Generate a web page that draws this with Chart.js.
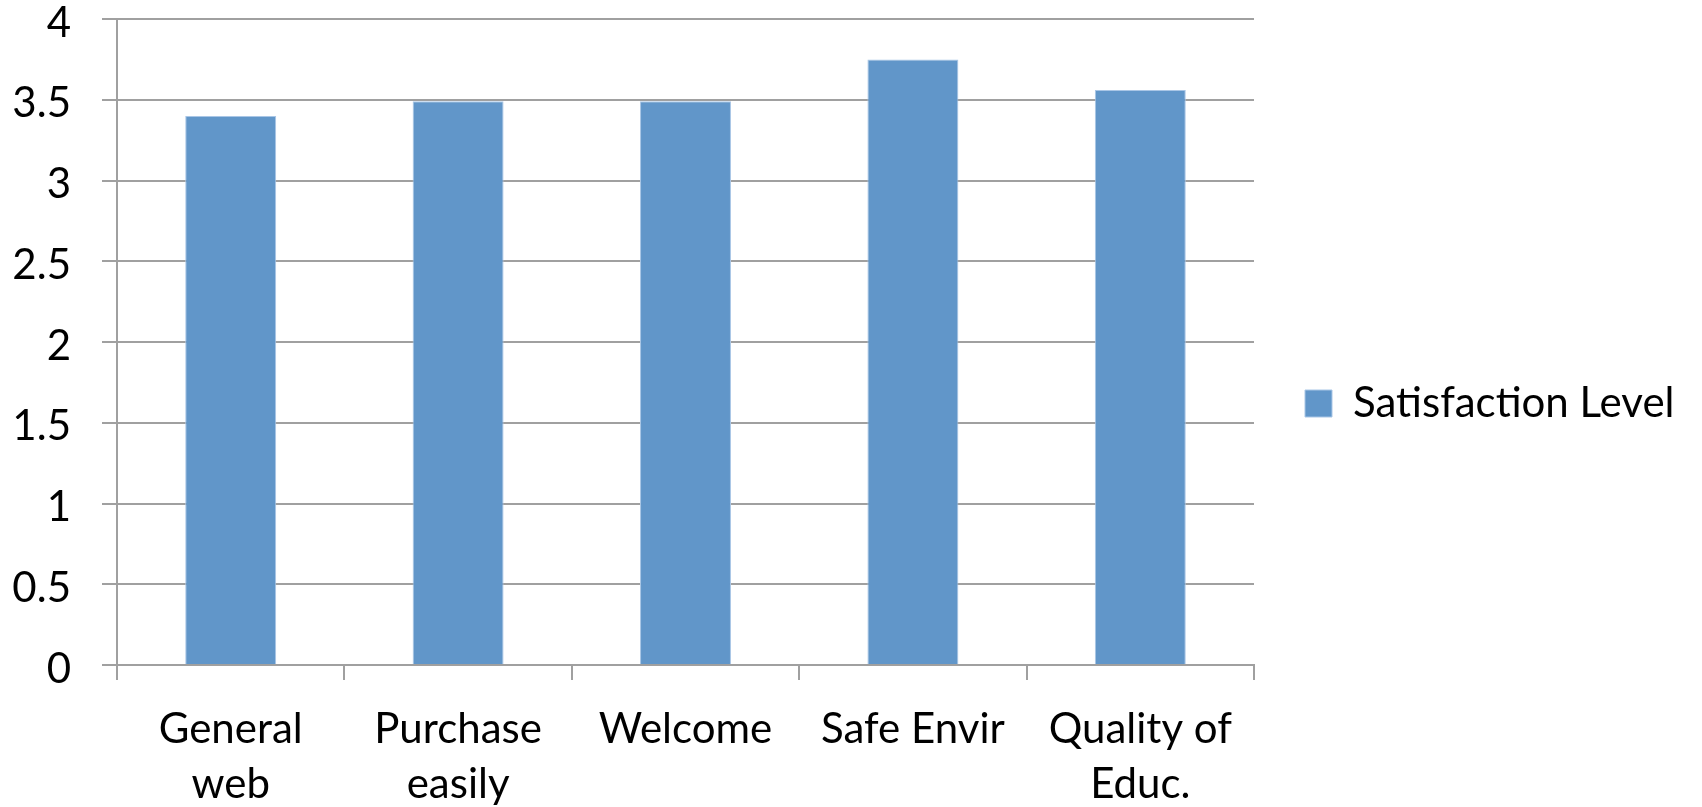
<!DOCTYPE html>
<html>
<head>
<meta charset="utf-8">
<script src="https://cdn.jsdelivr.net/npm/chart.js@4"></script>
<style>
  html, body { margin: 0; padding: 0; background: #ffffff; }
  #wrap { width: 1702px; height: 807px; }
</style>
</head>
<body>
<div id="wrap"><canvas id="c" width="1702" height="807"></canvas></div>
<script>
// ---- data ----
const categories = [
  ["General", "web"],
  ["Purchase", "easily"],
  ["Welcome"],
  ["Safe Envir"],
  ["Quality of", "Educ."]
];
const seriesName = "Satisfaction Level";
const satisfaction = [3.40, 3.49, 3.49, 3.75, 3.56];
const yTicks = [0, 0.5, 1, 1.5, 2, 2.5, 3, 3.5, 4];

function draw() {
  const FONT = "Lato";
  const gridColor = "#a0a0a0";
  new Chart(document.getElementById("c"), {
    type: "bar",
    data: {
      labels: categories,
      datasets: [{
        label: seriesName,
        data: satisfaction,
        backgroundColor: "#6196c9",
        borderColor: "#a9c6e6",
        borderWidth: 1,
        categoryPercentage: 1.0,
        barPercentage: 0.4
      }]
    },
    options: {
      responsive: false,
      devicePixelRatio: 1,
      animation: false,
      layout: { padding: { top: 0, right: 0, bottom: 0, left: 0 } },
      plugins: {
        tooltip: { enabled: false },
        legend: {
          position: "right",
          labels: {
            boxWidth: 27,
            boxHeight: 27,
            padding: 51,
            color: "#000000",
            font: { family: FONT, size: 42 }
          }
        }
      },
      scales: {
        x: {
          grid: {
            offset: true,
            drawOnChartArea: false,
            drawTicks: true,
            tickLength: 15,
            color: gridColor,
            lineWidth: 2
          },
          border: { display: true, color: gridColor, width: 2 },
          ticks: {
            color: "#000000",
            padding: 22,
            maxRotation: 0,
            autoSkip: false,
            font: { family: FONT, size: 42, lineHeight: 1.31 }
          },
          afterFit: function (s) {
            s.height = 142;
            s.paddingLeft = 0;
            s.paddingRight = 448;
          }
        },
        y: {
          min: 0,
          max: 4,
          afterBuildTicks: function (s) {
            s.ticks = yTicks.map(v => ({ value: v }));
          },
          grid: {
            color: gridColor,
            lineWidth: 2,
            drawTicks: true,
            tickLength: 15
          },
          border: { display: true, color: gridColor, width: 2 },
          ticks: {
            color: "#000000",
            padding: 31,
            labelOffset: 4,
            font: { family: FONT, size: 42 },
            callback: function (v) { return String(v); }
          },
          afterFit: function (s) {
            s.width = 117;
            s.paddingTop = 19;
            s.paddingBottom = 0;
          }
        }
      }
    }
  });
}

if (document.fonts && document.fonts.load) {
  document.fonts.load("42px Lato").then(draw, draw);
} else {
  draw();
}
</script>
</body>
</html>
